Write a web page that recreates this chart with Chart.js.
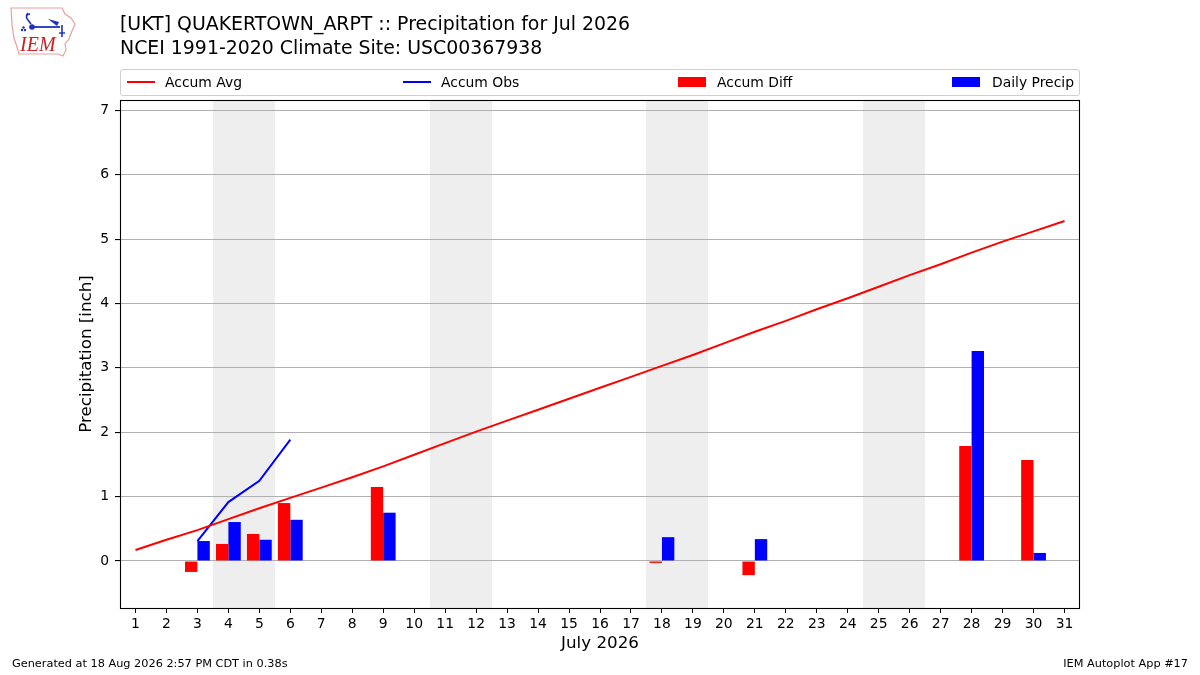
<!DOCTYPE html>
<html><head><meta charset="utf-8">
<script src="https://cdn.jsdelivr.net/npm/chart.js@4"></script>
<style>
html,body{margin:0;padding:0;background:#fff}
body{width:1200px;height:675px;position:relative;overflow:hidden;font-family:"DejaVu Sans",sans-serif;color:#000}
#c{position:absolute;left:0;top:0}
.t{position:absolute;white-space:nowrap}
#legend{position:absolute;left:120px;top:69px;width:958px;height:25px;border:1px solid #d0d0d0;border-radius:3px;box-sizing:content-box}
.li{position:absolute;top:0;height:25px;font-size:13.9px;line-height:25px;white-space:nowrap}
.sw{position:absolute}
</style></head><body>
<canvas id="c" width="1200" height="675"></canvas>

<svg class="t" style="left:8px;top:5px" width="72" height="54" viewBox="0 0 72 54">
  <path d="M3,3 L54,3 L57,9 L63,13 L67,19 L64,26 L61,34 L57,39 L58,45 L55,51 L50,49 L11,49 L9,42 L6,33 L4,20 Z" fill="none" stroke="#e8a0a0" stroke-width="1.2"/>
  <path d="M20,8 Q17,12 20,15 L23,19" fill="none" stroke="#2030c0" stroke-width="1.6"/>
  <path d="M18,10 L22,9" stroke="#2030c0" stroke-width="1.4"/>
  <circle cx="24" cy="22" r="2.8" fill="#2030c0"/>
  <line x1="24" y1="22" x2="52" y2="22" stroke="#2030c0" stroke-width="1.8"/>
  <path d="M40,14 L51,17 L49,21 Z" fill="#2030c0"/>
  <line x1="54" y1="20" x2="54" y2="32" stroke="#2030c0" stroke-width="1.6"/>
  <path d="M51,28 L57,28" stroke="#2030c0" stroke-width="1.4"/>
  <circle cx="17" cy="25" r="1.2" fill="#2030c0"/><circle cx="14" cy="25" r="1.2" fill="#2030c0"/><circle cx="15.5" cy="22.5" r="1.2" fill="#2030c0"/>
  <text x="12" y="46" font-family="Liberation Serif, serif" font-style="italic" font-size="20" fill="#d02020">IEM</text>
</svg>

<div class="t" style="left:120px;top:12px;font-size:18.9px;line-height:22px">[UKT] QUAKERTOWN_ARPT :: Precipitation for Jul 2026</div>
<div class="t" style="left:120px;top:35.5px;font-size:18.9px;line-height:22px">NCEI 1991-2020 Climate Site: USC00367938</div>

<div id="legend"></div>

<div class="t" style="left:12px;top:657px;font-size:11.3px;line-height:14px">Generated at 18 Aug 2026 2:57 PM CDT in 0.38s</div>
<div class="t" style="right:12px;top:657px;font-size:11.3px;line-height:14px">IEM Autoplot App #17</div>

<script>
// ---- data ----
const days = ['1','2','3','4','5','6','7','8','9','10','11','12','13','14','15','16','17','18','19','20','21','22','23','24','25','26','27','28','29','30','31'];
const accumAvg = [0.17,0.33,0.48,0.65,0.82,0.98,1.14,1.30,1.47,1.65,1.83,2.01,2.18,2.35,2.52,2.69,2.86,3.03,3.20,3.38,3.56,3.73,3.91,4.08,4.26,4.44,4.61,4.79,4.96,5.12,5.28];
const accumObs = [null,null,0.31,0.915,1.245,1.885,null,null,null,null,null,null,null,null,null,null,null,null,null,null,null,null,null,null,null,null,null,null,null,null,null];
const accumDiff = [null,null,-0.17,0.265,0.42,0.90,null,null,1.15,null,null,null,null,null,null,null,null,-0.03,null,null,-0.22,null,null,null,null,null,null,1.785,null,1.57,null];
const dailyPrecip = [null,null,0.31,0.605,0.33,0.64,null,null,0.75,null,null,null,null,null,null,null,null,0.37,null,null,0.34,null,null,null,null,null,null,3.26,null,0.125,null];
const weekendStart = ['4','11','18','25'];   // Saturdays (Sat+Sun shaded)
const weekendEnd   = ['5','12','19','26'];
const yTicks = [0,1,2,3,4,5,6,7];
const yMin = -0.73, yMax = 7.16;

const series = [
  {label:'Accum Avg', type:'line', data:accumAvg, color:'#ff0000'},
  {label:'Accum Obs', type:'line', data:accumObs, color:'#0000ff'},
  {label:'Accum Diff', type:'bar', data:accumDiff, color:'#ff0000'},
  {label:'Daily Precip', type:'bar', data:dailyPrecip, color:'#0000ff'}
];

// ---- legend (HTML) ----
const legendPos = [{sw:6,tx:44},{sw:282,tx:320},{sw:558,tx:596},{sw:832,tx:871}];
const lg = document.getElementById('legend');
series.forEach((s,i)=>{
  const sw = document.createElement('div');
  sw.className='sw';
  if (s.type==='line'){ sw.style.cssText=`left:${legendPos[i].sw}px;top:11px;width:28px;height:2px;background:${s.color}`; }
  else { sw.style.cssText=`left:${legendPos[i].sw-1}px;top:7px;width:28px;height:10px;background:${s.color}`; }
  lg.appendChild(sw);
  const tx = document.createElement('div');
  tx.className='li'; tx.style.left=legendPos[i].tx+'px'; tx.textContent=s.label;
  lg.appendChild(tx);
});

Chart.defaults.font.family = '"DejaVu Sans", sans-serif';
Chart.defaults.color = '#000';

const bgPlugin = {
  id:'bands',
  beforeDraw(chart){
    const {ctx, chartArea:a, scales:{x}} = chart;
    ctx.save();
    ctx.fillStyle = '#eeeeee';
    weekendStart.forEach((d,k)=>{
      const i0 = days.indexOf(d), i1 = days.indexOf(weekendEnd[k]);
      const x0 = Math.round(x.getPixelForValue(i0-0.5)), x1 = Math.round(x.getPixelForValue(i1+0.5));
      ctx.fillRect(x0, a.top, x1-x0, a.bottom-a.top);
    });
    ctx.restore();
  },
  afterDraw(chart){
    const {ctx, chartArea:a} = chart;
    ctx.save();
    ctx.strokeStyle='#000'; ctx.lineWidth=1.1;
    ctx.strokeRect(Math.round(a.left)+0.5, Math.round(a.top)+0.5, Math.round(a.right-a.left)-1, Math.round(a.bottom-a.top));
    ctx.restore();
  }
};

new Chart(document.getElementById('c'), {
  data:{
    labels: days,
    datasets: series.map(s=> s.type==='line' ? {
      type:'line', label:s.label, data:s.data, borderColor:s.color, backgroundColor:s.color,
      borderWidth:2, pointRadius:0, tension:0, spanGaps:false, order:0
    } : {
      type:'bar', label:s.label, data:s.data, backgroundColor:s.color, borderWidth:0,
      categoryPercentage:0.8, barPercentage:1.0, order:1
    })
  },
  options:{
    responsive:false, animation:false, devicePixelRatio:1,
    layout:{padding:{left:77,right:120,top:100,bottom:21}},
    plugins:{legend:{display:false}, tooltip:{enabled:false}},
    scales:{
      x:{
        type:'category', offset:true,
        grid:{display:true, drawOnChartArea:false, drawTicks:true, tickLength:5, tickColor:'#000', offset:false},
        border:{display:false},
        ticks:{font:{size:13.9}, color:'#000', padding:3, maxRotation:0, autoSkip:false},
        title:{display:true, text:'July 2026', font:{size:16.7}, color:'#000', padding:0},
        afterFit(s){ s.height = 46; }
      },
      y:{
        type:'linear', min:yMin, max:yMax,
        afterBuildTicks(s){ s.ticks = yTicks.map(v=>({value:v})); },
        grid:{color:'#b0b0b0', lineWidth:1.1, tickColor:'#000', tickLength:5},
        border:{display:false},
        ticks:{font:{size:13.9}, color:'#000', padding:6},
        title:{display:true, text:'Precipitation [inch]', font:{size:16.7}, color:'#000', padding:0},
        afterFit(s){ s.width = 43; }
      }
    }
  },
  plugins:[bgPlugin]
});
</script>
</body></html>
